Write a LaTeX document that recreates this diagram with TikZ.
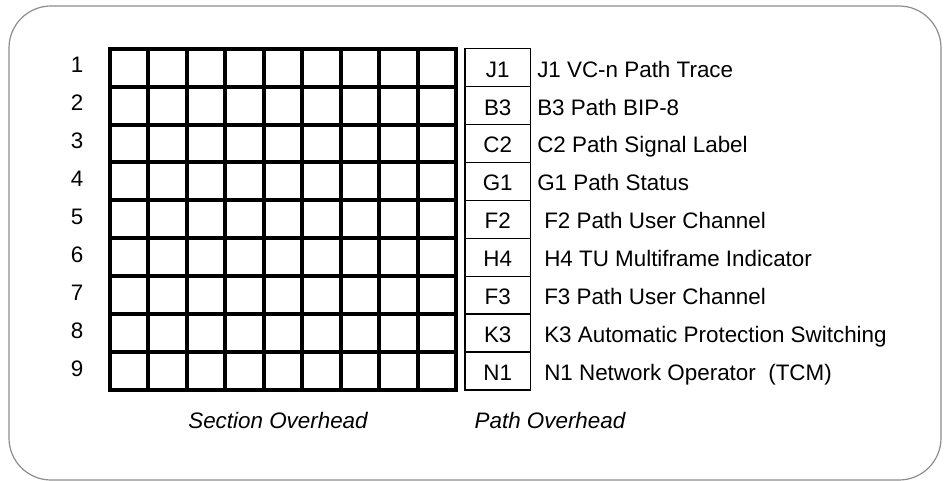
\documentclass[tikz,border=0pt]{standalone}
\usepackage{fontspec}
\setmainfont{Liberation Sans}
\usetikzlibrary{positioning}

\begin{document}
\begin{tikzpicture}[
    x=1pt, y=-1pt,
    font=\fontsize{22.4}{26}\selectfont,
    every node/.style={text height=16pt, text depth=0pt},
    frame/.style={draw=black!45, line width=1.2pt, rounded corners=42pt},
    soh/.style={line width=4pt},
    pcell/.style={draw, line width=1.4pt, minimum width=65.3pt, minimum height=37.92pt, inner sep=0pt},
    bytetxt/.style={inner sep=0pt},
    desc/.style={anchor=west, inner sep=0pt},
    caption/.style={font=\fontsize{22.4}{26}\selectfont\itshape, inner sep=0pt}
]
\useasboundingbox (0,0) rectangle (945,481);

% Outer frame
\draw[frame] (9,6) rectangle (941,480);

% Section overhead grid (9 x 9)
\foreach \i in {1,...,8} {
    \draw[soh] ({109.7+38.51*\i},48.7) -- ({109.7+38.51*\i},390);
    \draw[soh] (109.7,{48.7+37.92*\i}) -- (456.3,{48.7+37.92*\i});
}
\draw[soh] (109.7,48.7) rectangle (456.3,390);

% Row numbers
\foreach \r in {1,...,9}
    \node[inner sep=0pt] (row\r) at (77,{48.7+37.92*(\r-0.5)-3}) {\r};

% Path overhead column and its bytes
\foreach \b/\t [count=\r] in {J1/{J1 VC-n Path Trace}, B3/{B3 Path BIP-8},
    C2/{C2 Path Signal Label}, G1/{G1 Path Status}} {
    \node[pcell] (p\r) at (497.7,{48.7+37.92*(\r-0.5)}) {};
    \node[bytetxt] (b\r) at ([yshift=-1.5pt]p\r.center) {\b};
    \node[desc] (d\r) at ([xshift=6pt]p\r.east |- b\r) {\t};
}
\foreach \b/\t [count=\k] in {F2/{F2 Path User Channel}, H4/{H4 TU Multiframe Indicator},
    F3/{F3 Path User Channel}, K3/{K3 Automatic Protection Switching},
    N1/{N1 Network Operator\ \ (TCM)}} {
    \pgfmathtruncatemacro{\r}{\k+4}
    \node[pcell] (p\r) at (497.7,{48.7+37.92*(\r-0.5)}) {};
    \node[bytetxt] (b\r) at ([yshift=-1.5pt]p\r.center) {\b};
    \node[desc] (d\r) at ([xshift=13pt]p\r.east |- b\r) {\t};
}

% Captions
\node[caption] (soh) at (278,420) {Section Overhead};
\node[caption] (poh) at (550,420) {Path Overhead};

\end{tikzpicture}
\end{document}
